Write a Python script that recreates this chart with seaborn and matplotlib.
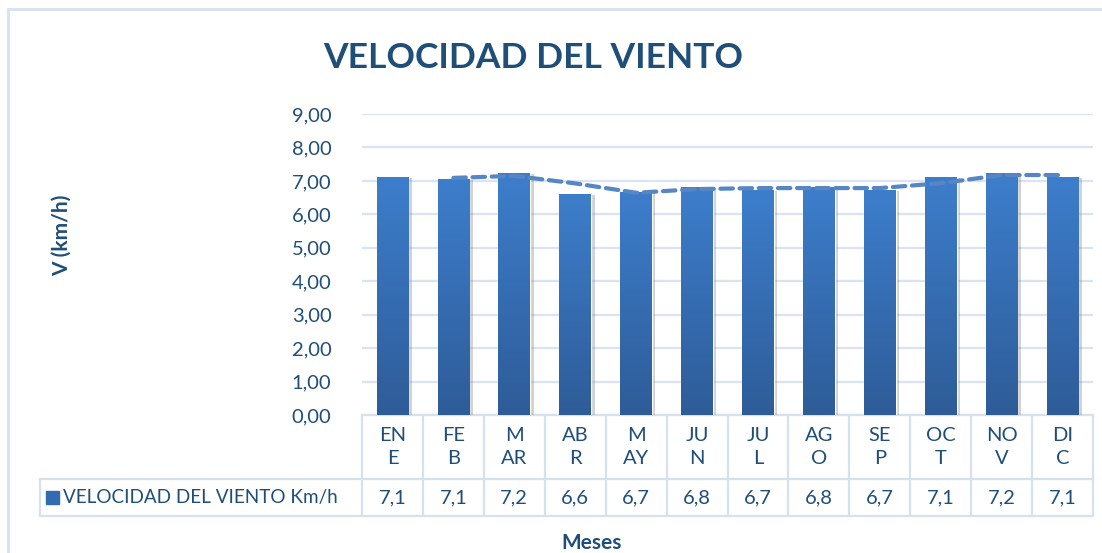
import numpy as np
import pandas as pd
import seaborn as sns
import matplotlib.pyplot as plt
import matplotlib.patheffects as pe
from matplotlib.lines import Line2D
from matplotlib.patches import Rectangle

# ---------------------------- data ---------------------------------
months = ["ENE", "FEB", "MAR", "ABR", "MAY", "JUN",
          "JUL", "AGO", "SEP", "OCT", "NOV", "DIC"]
month_labels = ["EN\nE", "FE\nB", "M\nAR", "AB\nR", "M\nAY", "JU\nN",
                "JU\nL", "AG\nO", "SE\nP", "OC\nT", "NO\nV", "DI\nC"]
wind_speed = [7.12, 7.06, 7.24, 6.61, 6.68, 6.83,
              6.74, 6.83, 6.74, 7.12, 7.23, 7.12]
series_name = "VELOCIDAD DEL VIENTO Km/h"
yticks = [0, 1, 2, 3, 4, 5, 6, 7, 8, 9]

df = pd.DataFrame({"mes": months, "v": wind_speed})
# 2-period moving average (excel style trend line)
df["ma"] = df["v"].rolling(2).mean()

# ---------------------------- style --------------------------------
sns.set_theme(style="white")
plt.rcParams["font.family"] = ["Lato", "DejaVu Sans"]
dark = "#1F4E79"
grid_c = "#D9E3F1"

W, H = 1102, 553
fig = plt.figure(figsize=(W / 100, H / 100), dpi=100)

# plot area in pixels: x 362..1093, y 114 (9.0) .. 415 (0.0)
x0, x1, ytop, ybot = 362, 1093, 114, 415
ax = fig.add_axes([x0 / W, 1 - ybot / H, (x1 - x0) / W, (ybot - ytop) / H])

sns.barplot(data=df, x="mes", y="v", order=months, width=0.52,
            color="#3A78C6", saturation=1, ax=ax, zorder=3)

# gradient + soft shadow on each bar
grad = np.linspace(0, 1, 256).reshape(-1, 1)
cmap = sns.blend_palette(["#2E5C98", "#3D7ECC"], as_cmap=True)
for bar in ax.patches:
    bar.set_path_effects([pe.SimplePatchShadow(offset=(2.5, -1), shadow_rgbFace="#808080", alpha=0.35),
                          pe.Normal()])
    bx, bw, bh = bar.get_x(), bar.get_width(), bar.get_height()
    im = ax.imshow(grad, extent=(bx, bx + bw, 0, bh), origin="lower",
                   cmap=cmap, aspect="auto", zorder=3.5)
    im.set_clip_path(bar)

pos = np.arange(len(months))
sns.lineplot(x=pos, y=df["ma"], ax=ax, color="#5686C4", lw=3,
             zorder=5, dashes=False)
ax.lines[-1].set_dashes((3.0, 1.6))
ax.lines[-1].set_dash_capstyle("round")

ax.set_xlim(-0.5, len(months) - 0.5)
ax.set_ylim(0, 9)
ax.set_yticks(yticks)
ax.set_yticklabels([f"{t:.2f}".replace(".", ",") for t in yticks],
                   fontsize=14.5, color=dark)
ax.tick_params(axis="y", length=0, pad=22)
ax.set_xticks([])
ax.set_xlabel("")
ax.set_ylabel("")
for s in ax.spines.values():
    s.set_visible(False)
ax.yaxis.grid(True, color=grid_c, lw=1.6, zorder=0)
ax.set_axisbelow(True)


# ---------------------------- data table -----------------------------
def py(ypix):
    # pixel row -> axes fraction
    return (ybot - ypix) / (ybot - ytop)


tr = ax.get_xaxis_transform()
tab_c = "#D6E1F0"
row1, row2 = 479, 516
for y in [ybot, row1, row2]:
    ax.add_line(Line2D([-0.5, len(months) - 0.5], [py(y), py(y)],
                       transform=tr, color=tab_c, lw=1.6, clip_on=False))
for i in range(len(months) + 1):
    ax.add_line(Line2D([i - 0.5, i - 0.5], [py(ybot), py(row2)],
                       transform=tr, color=tab_c, lw=1.6, clip_on=False))
for i, (lab, v) in enumerate(zip(month_labels, wind_speed)):
    ax.text(i, py(447), lab, transform=tr, ha="center", va="center",
            fontsize=14.5, color=dark, linespacing=1.45)
    ax.text(i, py(497.5), f"{v:.1f}".replace(".", ","), transform=tr,
            ha="center", va="center", fontsize=14.5, color=dark)

# legend cell at the left of the value row
fig.add_artist(Line2D([40 / W, x0 / W], [1 - row1 / H, 1 - row1 / H], color=tab_c, lw=1.6))
fig.add_artist(Line2D([40 / W, x0 / W], [1 - row2 / H, 1 - row2 / H], color=tab_c, lw=1.6))
fig.add_artist(Line2D([40 / W, 40 / W], [1 - row1 / H, 1 - row2 / H], color=tab_c, lw=1.6))
fig.add_artist(Rectangle((46 / W, 1 - 504 / H), 13 / W, 13 / H, color="#336BB0"))
fig.text(63 / W, 1 - 497.5 / H, series_name, ha="left", va="center",
         fontsize=13.6, color=dark)

# chart border (left and top)
fig.add_artist(Line2D([7.5 / W, 7.5 / W], [0, 1 - 8.5 / H], color="#D6E1F0", lw=2))
fig.add_artist(Line2D([7.5 / W, 1], [1 - 8.5 / H, 1 - 8.5 / H], color="#D6E1F0", lw=2))

# titles
fig.text(533 / W, 1 - 58 / H, "VELOCIDAD DEL VIENTO", ha="center", va="center",
         fontsize=25.5, fontweight="bold", color=dark)
fig.text(62 / W, 1 - 235 / H, "V (km/h)", ha="center", va="center",
         rotation=90, fontsize=15, fontweight="bold", color=dark)
fig.text(592 / W, 1 - 543 / H, "Meses", ha="center", va="center",
         fontsize=15, fontweight="bold", color=dark)

fig.savefig("out.png", dpi=100, facecolor="white")
